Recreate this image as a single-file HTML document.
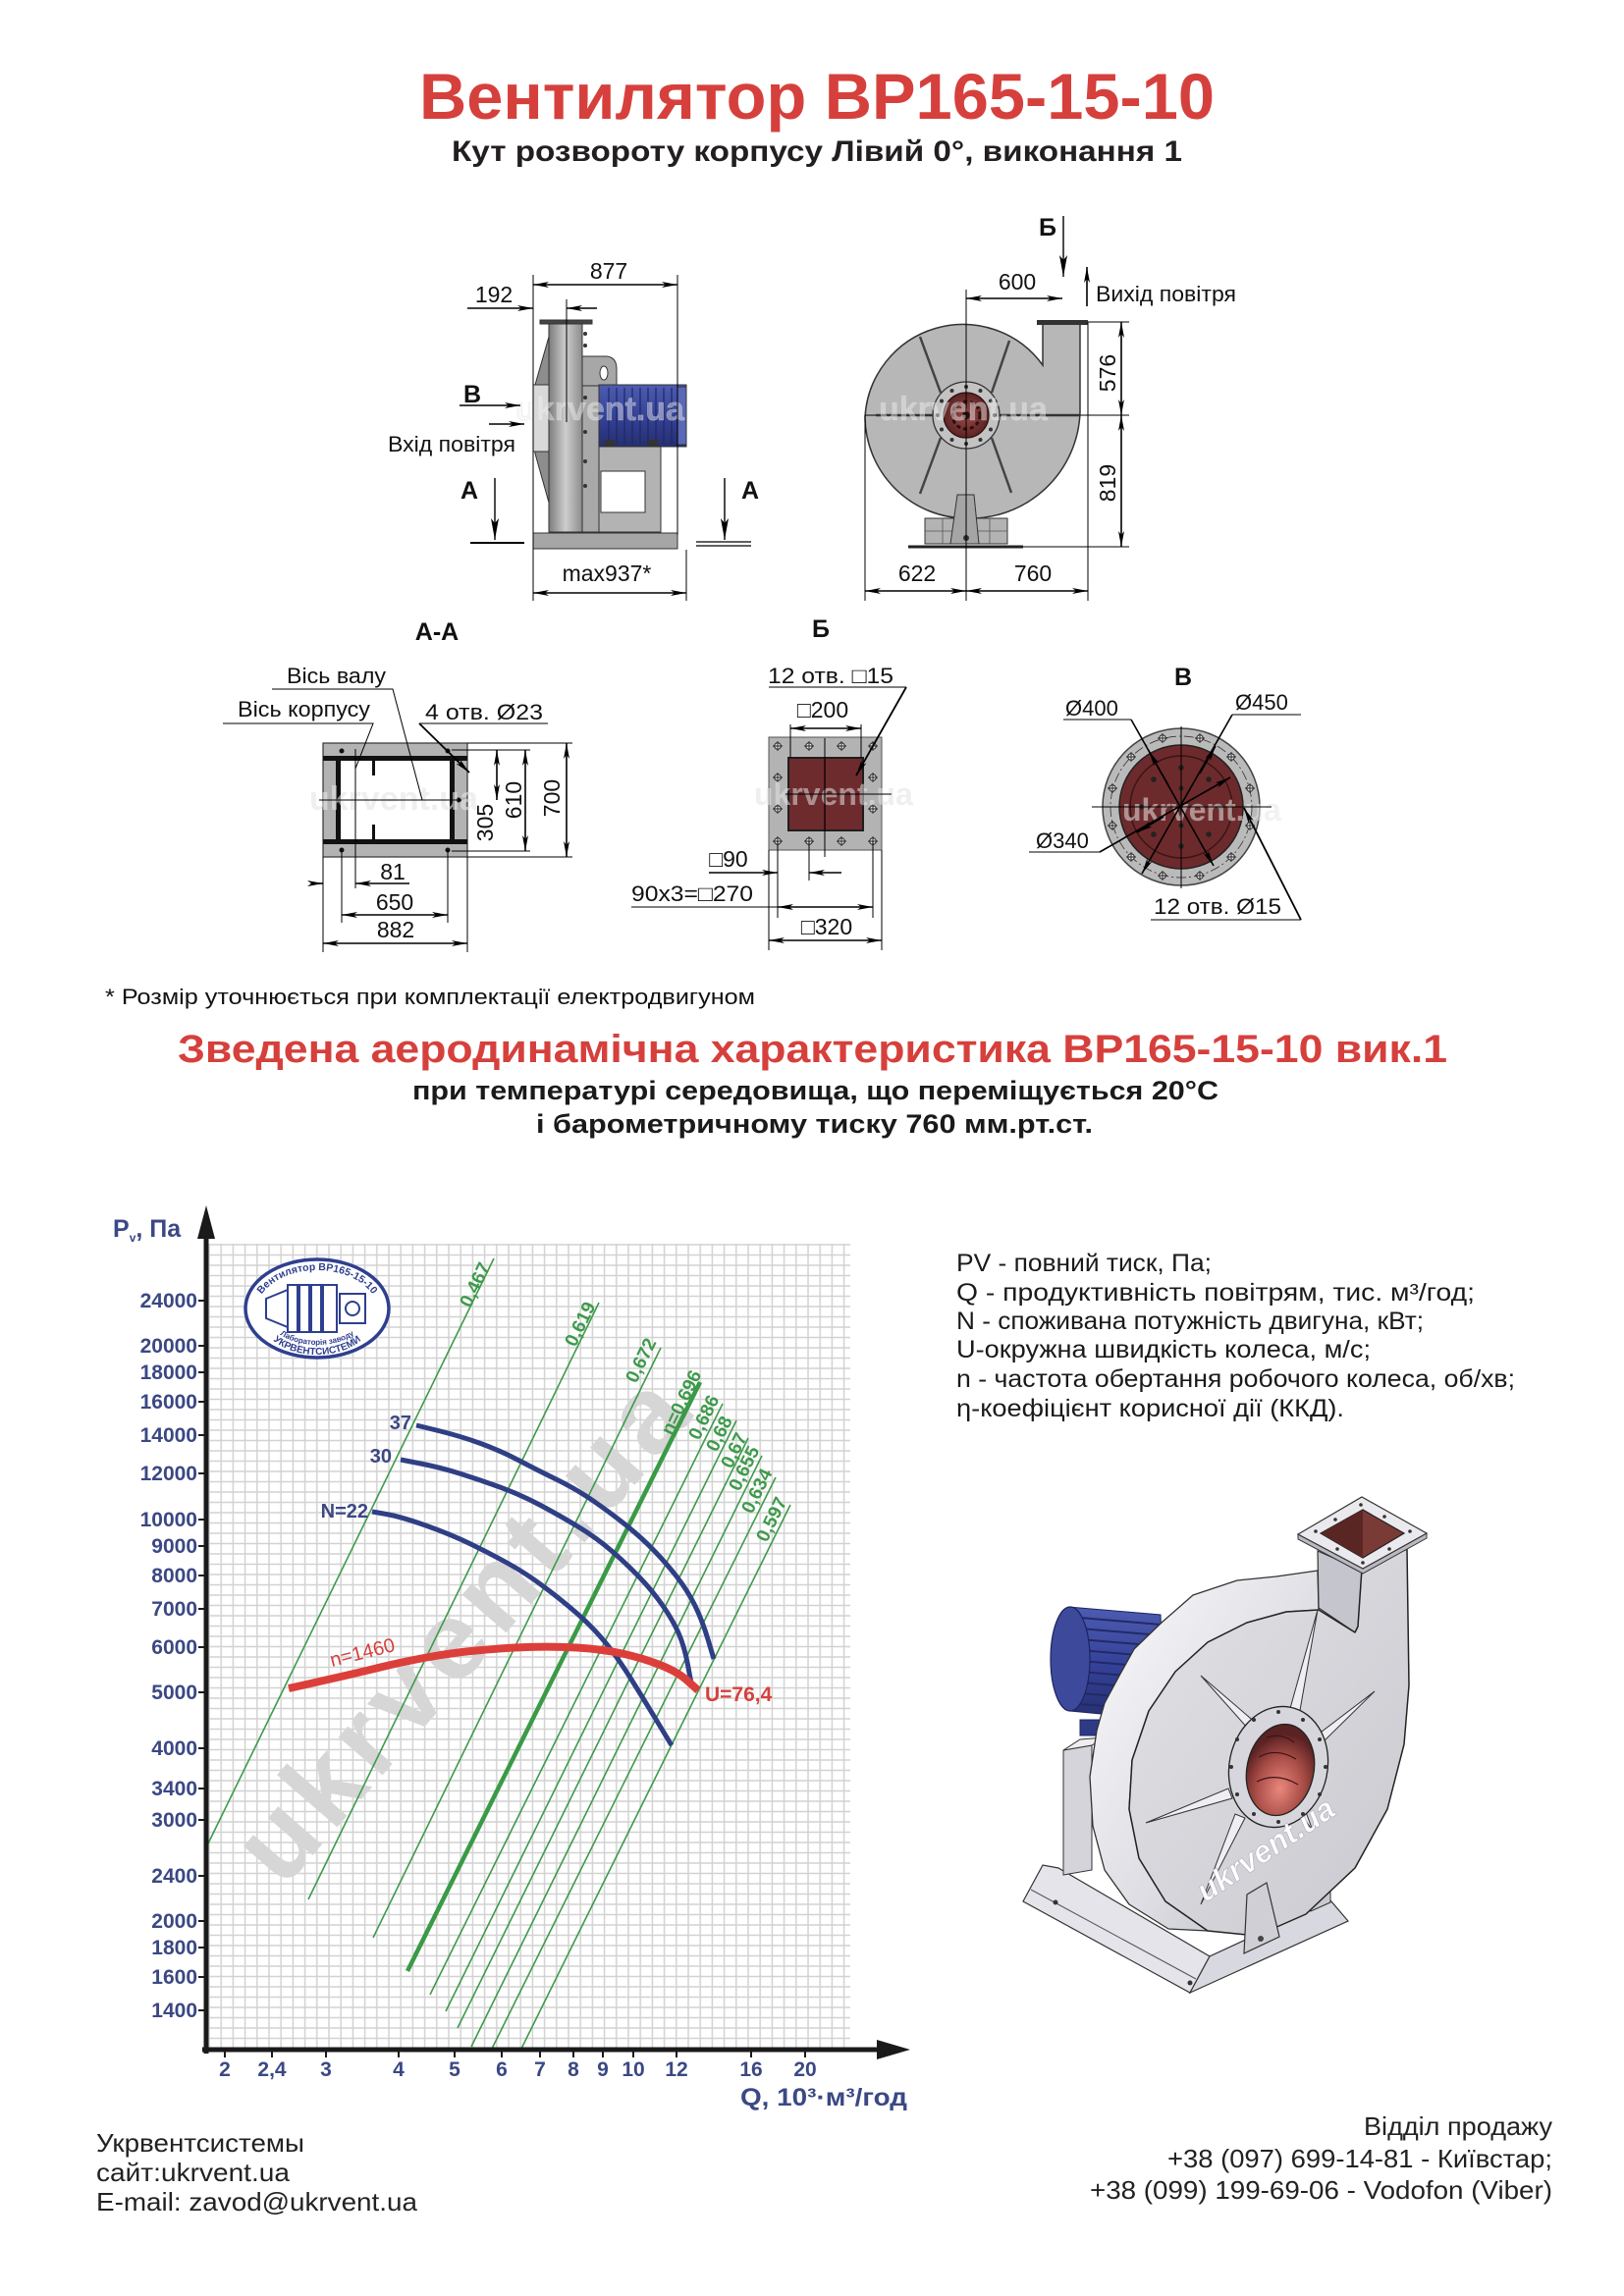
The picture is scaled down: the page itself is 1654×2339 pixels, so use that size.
<!DOCTYPE html>
<html><head><meta charset="utf-8">
<style>
html,body{margin:0;padding:0;background:#fff;}
svg{display:block;}
text{font-family:"Liberation Sans",Arial,"DejaVu Sans",sans-serif;}
</style></head><body>
<svg width="1654" height="2339" viewBox="0 0 1654 2339" xmlns="http://www.w3.org/2000/svg">
<defs>
<marker id="a" markerWidth="16" markerHeight="6" refX="16" refY="3" orient="auto-start-reverse" markerUnits="userSpaceOnUse"><path d="M0,0 L16,3 L0,6 L4,3 z" fill="#000"/></marker>
<marker id="b" markerWidth="22" markerHeight="8" refX="22" refY="4" orient="auto-start-reverse" markerUnits="userSpaceOnUse"><path d="M0,0 L22,4 L0,8 L5,4 z" fill="#000"/></marker>
<linearGradient id="hs" x1="0" y1="0" x2="1" y2="0"><stop offset="0" stop-color="#7c7c7c"/><stop offset="0.5" stop-color="#cdcdcd"/><stop offset="1" stop-color="#8c8c8c"/></linearGradient>
<linearGradient id="mg" x1="0" y1="0" x2="0" y2="1"><stop offset="0" stop-color="#4d5cb0"/><stop offset="0.5" stop-color="#35429a"/><stop offset="1" stop-color="#252f70"/></linearGradient>
<radialGradient id="rh" cx="0.5" cy="0.5" r="0.5"><stop offset="0" stop-color="#9a4a48"/><stop offset="1" stop-color="#5e2324"/></radialGradient>
<linearGradient id="band" x1="0" y1="0" x2="1" y2="1"><stop offset="0" stop-color="#fbfbfd"/><stop offset="0.6" stop-color="#dcdce2"/><stop offset="1" stop-color="#b9b9c4"/></linearGradient>
<linearGradient id="front" x1="0" y1="0" x2="1" y2="1"><stop offset="0" stop-color="#e2e2e6"/><stop offset="1" stop-color="#c9c9cf"/></linearGradient>
<radialGradient id="inl" cx="0.55" cy="0.7" r="0.6"><stop offset="0" stop-color="#e9877c"/><stop offset="0.6" stop-color="#a64b45"/><stop offset="1" stop-color="#5a2223"/></radialGradient>
<pattern id="g" x="212" y="1267" width="12.2" height="10.5" patternUnits="userSpaceOnUse"><path d="M1,0V10.5M0,1H12.2" stroke="#d2d2d2" stroke-width="1.5" fill="none"/></pattern>
<g id="hc"><circle r="3.3" fill="#e8e8e8" stroke="#222" stroke-width="1"/><path d="M-5,0H5M0,-5V5" stroke="#222" stroke-width="0.9"/></g>
<path id="stTop" d="M261,1336 A62,42 0 0 1 385,1336" fill="none"/>
<path id="stB1" d="M273,1340 A50,30 0 0 0 373,1340" fill="none"/>
<path id="stB2" d="M266,1342 A57,38 0 0 0 380,1342" fill="none"/>
</defs>
<rect width="1654" height="2339" fill="#fff"/>

<!-- ================= TITLES ================= -->
<text x="427" y="121" font-size="66" font-weight="bold" fill="#d6403c" textLength="810" lengthAdjust="spacingAndGlyphs">Вентилятор ВР165-15-10</text>
<text x="460" y="164" font-size="30" font-weight="bold" fill="#231f20" textLength="744" lengthAdjust="spacingAndGlyphs">Кут розвороту корпусу Лівий 0°, виконання 1</text>

<!-- ================= SIDE VIEW ================= -->
<g stroke="#333" stroke-width="1">
  <polygon points="559,343 545,392 545,462 559,512" fill="#8d8d8d"/>
  <rect x="543" y="392" width="16" height="68" fill="#d9d9d9"/>
  <rect x="559" y="328" width="34" height="214" fill="url(#hs)"/>
  <rect x="550" y="326" width="53" height="4" fill="#444"/>
  <rect x="593" y="363" width="17" height="179" fill="#a9a9a9"/>
  <path d="M593,363 H618 Q628,364 628,376 V393 H593 Z" fill="#a7a7a7"/>
  <ellipse cx="615" cy="380" rx="4" ry="7" fill="#fff"/>
  <rect x="610" y="455" width="63" height="87" fill="#b3b3b3"/>
  <rect x="612" y="480" width="45" height="42" fill="#fff"/>
  <rect x="610" y="392" width="89" height="63" fill="url(#mg)"/>
  <rect x="690" y="394" width="9" height="59" fill="#5a68b8"/>
  <rect x="543" y="543" width="147" height="16" fill="#a6a6a6"/>
</g>
<g stroke="#1f2860" stroke-width="1.2">
  <path d="M620,395V452M628,395V452M636,395V452M644,395V452M652,395V452M660,395V452M668,395V452M676,395V452M684,395V452"/>
</g>
<g fill="#333"><circle cx="596" cy="340" r="2"/><circle cx="596" cy="352" r="2"/><circle cx="596" cy="405" r="2"/><circle cx="596" cy="440" r="2"/><circle cx="596" cy="470" r="2"/><circle cx="596" cy="495" r="2"/><rect x="616" y="448" width="10" height="7"/><rect x="660" y="448" width="10" height="7"/></g>
<text x="525" y="428" font-size="34" font-weight="bold" fill="#f2f2f2" fill-opacity="0.45" stroke="#d8d8d8" stroke-opacity="0.5" stroke-width="0.6">ukrvent.ua</text>
<!-- side dims -->
<g stroke="#000" stroke-width="1" fill="none">
  <path d="M543,280V612M690,280V545M699,560V612M577,305V430"/>
  <path d="M543,290H690" marker-start="url(#a)" marker-end="url(#a)" stroke-width="1.6"/>
  <path d="M476,314H543" marker-end="url(#a)" stroke-width="1.6"/>
  <path d="M608,314H577" marker-end="url(#a)" stroke-width="1.6"/>
  <path d="M543,604H699" marker-start="url(#a)" marker-end="url(#a)" stroke-width="1.6"/>
  <path d="M468,413H530" marker-end="url(#a)" stroke-width="1.4"/>
  <path d="M498,432H534" marker-end="url(#a)" stroke-width="1.6"/>
  <path d="M504,487V550" marker-end="url(#b)" stroke-width="1.4"/>
  <path d="M479,553H534" stroke-width="2"/>
  <path d="M738,487V550" marker-end="url(#b)" stroke-width="1.4"/>
  <path d="M709,552H765M709,556H765" stroke-width="1.2"/>
</g>
<g font-size="23" fill="#111" text-anchor="middle">
  <text x="620" y="284">877</text>
  <text x="503" y="308">192</text>
  <text x="618" y="592">max937*</text>
</g>
<text x="395" y="460" font-size="22" fill="#111" textLength="130" lengthAdjust="spacingAndGlyphs">Вхід повітря</text>
<g font-size="25" font-weight="bold" fill="#111" text-anchor="middle">
  <text x="481" y="410">В</text>
  <text x="478" y="508">А</text>
  <text x="764" y="508">А</text>
</g>

<!-- ================= FRONT VIEW ================= -->
<path d="M1062,330 L1062,372 A100,100 0 0 0 881,425 A104,104 0 0 0 984,528 A112,112 0 0 0 1100,420 L1100,330 Z" fill="#b7b7b7" stroke="#333" stroke-width="1.5"/>
<rect x="1056" y="326" width="52" height="5" fill="#333"/>
<g stroke="#444" stroke-width="2.5">
  <path d="M958,400L937,343M1010,400L1028,347M958,446L937,503M1010,446L1030,502"/>
</g>
<path d="M892,423H1100" stroke="#333" stroke-width="2.5"/>
<circle cx="984" cy="423" r="34" fill="#c3c3c3" stroke="#333" stroke-width="1.3"/>
<g fill="#333">
  <circle cx="1013" cy="423" r="2"/><circle cx="1009" cy="437.5" r="2"/><circle cx="998.5" cy="448" r="2"/><circle cx="984" cy="452" r="2"/><circle cx="969.5" cy="448" r="2"/><circle cx="959" cy="437.5" r="2"/><circle cx="955" cy="423" r="2"/><circle cx="959" cy="408.5" r="2"/><circle cx="969.5" cy="398" r="2"/><circle cx="984" cy="394" r="2"/><circle cx="998.5" cy="398" r="2"/><circle cx="1009" cy="408.5" r="2"/>
</g>
<circle cx="984" cy="423" r="23" fill="url(#rh)" stroke="#2a1010" stroke-width="1.2"/>
<circle cx="984" cy="423" r="14" fill="none" stroke="#2a1010" stroke-width="3" stroke-dasharray="4 3"/>
<circle cx="984" cy="423" r="4" fill="#2a1010"/>
<rect x="942" y="528" width="84" height="26" fill="#b3b3b3" stroke="#333" stroke-width="1"/>
<path d="M960,528V554M1008,528V554M942,541H1026" stroke="#555" stroke-width="0.8"/>
<polygon points="975,504 992,504 997,554 968,554" fill="#a5a5a5" stroke="#333" stroke-width="1"/>
<circle cx="984" cy="548" r="3" fill="#333"/>
<path d="M925,557H1042" stroke="#222" stroke-width="3"/>
<text x="895" y="428" font-size="34" font-weight="bold" fill="#f2f2f2" fill-opacity="0.45" stroke="#d8d8d8" stroke-opacity="0.5" stroke-width="0.6">ukrvent.ua</text>
<g stroke="#000" stroke-width="1" fill="none">
  <path d="M984,295V612M881,423V612M1108,328V612M1108,328H1150M1100,423H1150M1042,557H1150M881,423H892"/>
  <path d="M984,304H1082" marker-start="url(#a)" marker-end="url(#a)" stroke-width="1.6"/>
  <path d="M1083,220V282" marker-end="url(#b)" stroke-width="1.4"/>
  <path d="M1107,312V272" marker-end="url(#a)" stroke-width="1.6"/>
  <path d="M1142,328V423" marker-start="url(#a)" marker-end="url(#a)" stroke-width="1.6"/>
  <path d="M1142,423V557" marker-start="url(#a)" marker-end="url(#a)" stroke-width="1.6"/>
  <path d="M881,602H984" marker-start="url(#a)" marker-end="url(#a)" stroke-width="1.6"/>
  <path d="M984,602H1108" marker-start="url(#a)" marker-end="url(#a)" stroke-width="1.6"/>
</g>
<g font-size="23" fill="#111" text-anchor="middle">
  <text x="1036" y="295">600</text>
  <text x="934" y="592">622</text>
  <text x="1052" y="592">760</text>
  <text transform="translate(1136,380) rotate(-90)">576</text>
  <text transform="translate(1136,492) rotate(-90)">819</text>
</g>
<text x="1116" y="307" font-size="22" fill="#111" textLength="143" lengthAdjust="spacingAndGlyphs">Вихід повітря</text>
<text x="1067" y="240" font-size="25" font-weight="bold" fill="#111" text-anchor="middle">Б</text>

<!-- ================= SECTION A-A ================= -->
<text x="445" y="652" font-size="25" font-weight="bold" fill="#111" text-anchor="middle">А-А</text>
<rect x="329" y="757" width="147" height="116" fill="#b3b3b3" stroke="#333" stroke-width="1.2"/>
<rect x="347" y="775" width="111" height="80" fill="#fff"/>
<g fill="#111">
  <rect x="329" y="770" width="147" height="5"/>
  <rect x="329" y="855" width="147" height="5"/>
  <rect x="342" y="770" width="5" height="90"/>
  <rect x="458" y="770" width="5" height="90"/>
  <rect x="379" y="775" width="3" height="15"/>
  <rect x="379" y="840" width="3" height="15"/>
  <circle cx="348" cy="765" r="2.5"/><circle cx="456" cy="765" r="2.5"/><circle cx="348" cy="866" r="2.5"/><circle cx="456" cy="866" r="2.5"/><circle cx="467" cy="815" r="2.5"/>
</g>
<text x="315" y="825" font-size="34" font-weight="bold" fill="#e4e4e4" fill-opacity="0.6">ukrvent.ua</text>
<g stroke="#000" stroke-width="1" fill="none">
  <path d="M325,815H470M362,763V905"/>
  <path d="M277,702H400L430,815M227,737H380L362,783M558,737H427"/>
  <path d="M427,737L478,787" marker-end="url(#a)" stroke-width="1.8"/>
  <path d="M476,757H583M476,873H583M460,764H540M460,867H540"/>
  <path d="M577,757V873" marker-start="url(#a)" marker-end="url(#a)" stroke-width="1.6"/>
  <path d="M535,764V867" marker-start="url(#a)" marker-end="url(#a)" stroke-width="1.6"/>
  <path d="M506,764V815" marker-start="url(#a)" marker-end="url(#a)" stroke-width="1.6"/>
  <path d="M329,873V970M348,866V940M456,866V940M476,873V970"/>
  <path d="M317,900H329" marker-end="url(#a)" stroke-width="1.6"/>
  <path d="M417,900H362" marker-end="url(#a)" stroke-width="1.6"/>
  <path d="M348,932H456" marker-start="url(#a)" marker-end="url(#a)" stroke-width="1.6"/>
  <path d="M329,961H476" marker-start="url(#a)" marker-end="url(#a)" stroke-width="1.6"/>
</g>
<g font-size="22" fill="#111">
  <text x="292" y="696" textLength="101" lengthAdjust="spacingAndGlyphs">Вісь валу</text>
  <text x="242" y="730" textLength="135" lengthAdjust="spacingAndGlyphs">Вісь корпусу</text>
  <text x="433" y="733" textLength="120" lengthAdjust="spacingAndGlyphs">4 отв. Ø23</text>
</g>
<g font-size="23" fill="#111" text-anchor="middle">
  <text x="400" y="896">81</text>
  <text x="402" y="927">650</text>
  <text x="403" y="955">882</text>
  <text transform="translate(570,813) rotate(-90)">700</text>
  <text transform="translate(531,815) rotate(-90)">610</text>
  <text transform="translate(502,838) rotate(-90)">305</text>
</g>

<!-- ================= SECTION Б ================= -->
<text x="836" y="649" font-size="25" font-weight="bold" fill="#111" text-anchor="middle">Б</text>
<rect x="783" y="751" width="115" height="115" fill="#b3b3b3" stroke="#555" stroke-width="1"/>
<rect x="803" y="772" width="76" height="74" fill="#6e2b2e" stroke="#1e1e1e" stroke-width="2"/>
<path d="M840,772V846" stroke="#3a1214" stroke-width="1.5"/>
<use href="#hc" x="792" y="760"/><use href="#hc" x="824" y="760"/><use href="#hc" x="857" y="760"/><use href="#hc" x="889" y="760"/>
<use href="#hc" x="792" y="857"/><use href="#hc" x="824" y="857"/><use href="#hc" x="857" y="857"/><use href="#hc" x="889" y="857"/>
<use href="#hc" x="792" y="792"/><use href="#hc" x="792" y="824"/><use href="#hc" x="889" y="792"/><use href="#hc" x="889" y="824"/>
<text x="768" y="820" font-size="32" font-weight="bold" fill="#e2e2e2" fill-opacity="0.55">ukrvent.ua</text>
<g stroke="#000" stroke-width="1" fill="none">
  <path d="M840,752V873M800,809H908"/>
  <path d="M783,700H923"/>
  <path d="M923,700L872,790" marker-end="url(#a)" stroke-width="1.8"/>
  <path d="M805,738V772M877,738V772"/>
  <path d="M805,742H877" marker-start="url(#a)" marker-end="url(#a)" stroke-width="1.6"/>
  <path d="M783,866V968M792,857V935M824,857V897M889,857V935M898,866V968"/>
  <path d="M722,889H792" marker-end="url(#a)" stroke-width="1.6"/>
  <path d="M857,889H824" marker-end="url(#a)" stroke-width="1.6"/>
  <path d="M643,924H792"/>
  <path d="M792,924H889" marker-start="url(#a)" marker-end="url(#a)" stroke-width="1.6"/>
  <path d="M783,958H898" marker-start="url(#a)" marker-end="url(#a)" stroke-width="1.6"/>
</g>
<g font-size="22" fill="#111">
  <text x="782" y="696" textLength="128" lengthAdjust="spacingAndGlyphs">12 отв. □15</text>
  <text x="643" y="918" textLength="124" lengthAdjust="spacingAndGlyphs">90x3=□270</text>
</g>
<g font-size="23" fill="#111" text-anchor="middle">
  <text x="838" y="731">□200</text>
  <text x="742" y="883">□90</text>
  <text x="842" y="952">□320</text>
</g>

<!-- ================= SECTION В ================= -->
<text x="1205" y="698" font-size="25" font-weight="bold" fill="#111" text-anchor="middle">В</text>
<circle cx="1203" cy="822" r="80" fill="#bababa" stroke="#444" stroke-width="1.5"/>
<circle cx="1203" cy="822" r="72" fill="none" stroke="#333" stroke-width="0.8" stroke-dasharray="10 3 2 3"/>
<g>
  <use href="#hc" x="1222" y="752"/><use href="#hc" x="1254" y="771"/><use href="#hc" x="1273" y="803"/><use href="#hc" x="1273" y="841"/><use href="#hc" x="1254" y="873"/><use href="#hc" x="1222" y="892"/>
  <use href="#hc" x="1184" y="892"/><use href="#hc" x="1152" y="873"/><use href="#hc" x="1133" y="841"/><use href="#hc" x="1133" y="803"/><use href="#hc" x="1152" y="771"/><use href="#hc" x="1184" y="752"/>
</g>
<circle cx="1203" cy="822" r="63" fill="#6d2a2c" stroke="#222" stroke-width="1.5"/>
<circle cx="1203" cy="822" r="52" fill="none" stroke="#3a1515" stroke-width="1.5"/>
<g fill="#222">
  <circle cx="1203" cy="782" r="2.8"/><circle cx="1231" cy="794" r="2.8"/><circle cx="1243" cy="822" r="2.8"/><circle cx="1231" cy="850" r="2.8"/><circle cx="1203" cy="862" r="2.8"/><circle cx="1175" cy="850" r="2.8"/><circle cx="1163" cy="822" r="2.8"/><circle cx="1175" cy="794" r="2.8"/>
  <circle cx="1203" cy="803" r="2.5"/><circle cx="1203" cy="841" r="2.5"/>
</g>
<text x="1143" y="836" font-size="32" font-weight="bold" fill="#e8e8e8" fill-opacity="0.55">ukrvent.ua</text>
<g stroke="#000" stroke-width="1" fill="none">
  <path d="M1112,822H1295M1203,740V905"/>
  <path d="M1083,733H1152M1255,728H1325M1048,868H1120M1172,937H1325"/>
  <path d="M1152,733L1236,882" marker-end="url(#a)" stroke-width="1.6"/>
  <path d="M1190,800L1170,765" marker-end="url(#a)" stroke-width="1.6"/>
  <path d="M1255,728L1163,890" marker-end="url(#a)" stroke-width="1.6"/>
  <path d="M1222,788L1238,760" marker-end="url(#a)" stroke-width="1.6"/>
  <path d="M1120,868L1253,792" marker-end="url(#a)" stroke-width="1.6"/>
  <path d="M1185,832L1158,848" marker-end="url(#a)" stroke-width="1.6"/>
  <path d="M1325,937L1267,823" marker-end="url(#a)" stroke-width="1.8"/>
</g>
<g font-size="22" fill="#111">
  <text x="1085" y="729">Ø400</text>
  <text x="1258" y="723">Ø450</text>
  <text x="1055" y="864">Ø340</text>
  <text x="1175" y="931" textLength="130" lengthAdjust="spacingAndGlyphs">12 отв. Ø15</text>
</g>

<!-- footnote and chart headings -->
<text x="107" y="1023" font-size="22" fill="#111" textLength="662" lengthAdjust="spacingAndGlyphs">* Розмір уточнюється при комплектації електродвигуном</text>
<text x="181" y="1082" font-size="40" font-weight="bold" fill="#d6403c" textLength="1293" lengthAdjust="spacingAndGlyphs">Зведена аеродинамічна характеристика ВР165-15-10 вик.1</text>
<text x="420" y="1120" font-size="27" font-weight="bold" fill="#1a1a1a" textLength="821" lengthAdjust="spacingAndGlyphs">при температурі середовища, що переміщується 20°С</text>
<text x="546" y="1154" font-size="27" font-weight="bold" fill="#1a1a1a" textLength="567" lengthAdjust="spacingAndGlyphs">і барометричному тиску 760 мм.рт.ст.</text>

<!-- ================= CHART ================= -->
<rect x="212" y="1267" width="654" height="821" fill="url(#g)"/>
<text transform="translate(476,1660) rotate(-49)" x="0" y="32" font-size="112" font-weight="bold" fill="#d6d6d6" text-anchor="middle" letter-spacing="8">ukrvent.ua</text>

<!-- stamp -->
<ellipse cx="323" cy="1333" rx="73" ry="50" fill="#fff" stroke="#2f3f8f" stroke-width="3.5"/>
<text font-size="10.5" font-weight="bold" fill="#2f3f8f"><textPath href="#stTop" startOffset="50%" text-anchor="middle">Вентилятор ВР165-15-10</textPath></text>
<text font-size="8" font-weight="bold" fill="#2f3f8f"><textPath href="#stB1" startOffset="50%" text-anchor="middle">Лабораторія заводу</textPath></text>
<text font-size="10" font-weight="bold" fill="#2f3f8f"><textPath href="#stB2" startOffset="50%" text-anchor="middle">УКРВЕНТСИСТЕМИ</textPath></text>
<g stroke="#2f3f8f" fill="#fff" stroke-width="2">
  <path d="M271,1323 L293,1314 V1352 L271,1343 Z"/>
  <rect x="293" y="1309" width="50" height="48"/>
  <rect x="346" y="1318" width="26" height="30"/>
</g>
<path d="M304,1309V1357M316,1309V1357M328,1309V1357" stroke="#2f3f8f" stroke-width="4"/>
<circle cx="359" cy="1333" r="7" fill="none" stroke="#2f3f8f" stroke-width="2"/>

<!-- green efficiency lines -->
<g stroke="#3e9a4a" stroke-width="1.6" fill="none">
  <path d="M503,1282L212,1878"/>
  <path d="M610,1327L314,1935"/>
  <path d="M673,1373L380,1974"/>
  <path d="M736,1430L438,2032"/>
  <path d="M750,1447L454,2049"/>
  <path d="M762,1465L466,2066"/>
  <path d="M776,1483L480,2085"/>
  <path d="M790,1505L501,2087"/>
  <path d="M805,1533L531,2087"/>
  <path d="M713,1408L415,2008" stroke-width="4.5" stroke="#3a9a46"/>
</g>
<g font-size="19" font-weight="bold" fill="#3e9a4a">
  <text transform="translate(479,1333) rotate(-64)">0,467</text>
  <text transform="translate(586,1373) rotate(-64)">0,619</text>
  <text transform="translate(648,1410) rotate(-64)">0,672</text>
  <text transform="translate(684,1463) rotate(-64)">n=0,696</text>
  <text transform="translate(712,1468) rotate(-64)">0,686</text>
  <text transform="translate(730,1480) rotate(-64)">0,68</text>
  <text transform="translate(745,1497) rotate(-64)">0,67</text>
  <text transform="translate(753,1520) rotate(-64)">0,655</text>
  <text transform="translate(766,1543) rotate(-64)">0,634</text>
  <text transform="translate(781,1572) rotate(-64)">0,597</text>
</g>

<!-- blue power curves -->
<g stroke="#2f3f85" stroke-width="5" fill="none" stroke-linejoin="round" stroke-linecap="butt">
  <path d="M424,1452 L446.5,1457.5 Q469,1463 489.5,1470.5 Q510,1478 528,1487.5 Q546,1497 566.5,1507 Q587,1517 605,1529.5 Q623,1542 638.5,1554.5 Q654,1567 666.5,1580 Q679,1593 689.5,1606.5 Q700,1620 707.5,1635 Q715,1650 721,1670 L727,1690"/>
  <path d="M408,1487 L428.5,1491 Q449,1495 469.5,1501.5 Q490,1508 510.5,1515.5 Q531,1523 551.5,1534 Q572,1545 590,1556 Q608,1567 623,1580 Q638,1593 651,1606.5 Q664,1620 674.5,1635 Q685,1650 691,1663.5 Q697,1677 700.5,1696 L704,1715"/>
  <path d="M379,1540 L393.5,1542.5 Q408,1545 433.5,1554 Q459,1563 479.5,1573 Q500,1583 518,1593 Q536,1603 554,1616.5 Q572,1630 587.5,1643.5 Q603,1657 615.5,1672 Q628,1687 641.5,1708.5 Q655,1730 669.5,1754 L684,1778"/>
</g>
<!-- red curve -->
<path d="M294,1720 L312,1716 Q330,1712 349.5,1707.5 Q369,1703 389.5,1698 Q410,1693 434.5,1688.5 Q459,1684 484.5,1681.5 Q510,1679 536,1678 Q562,1677 587.5,1678.5 Q613,1680 633.5,1684.5 Q654,1689 672,1696 Q690,1703 700.5,1712.5 L711,1722" stroke="#dc3f3a" stroke-width="8" fill="none" stroke-linejoin="round"/>

<g font-size="20" font-weight="bold" fill="#3b4884" text-anchor="end">
  <text x="419" y="1456">37</text>
  <text x="399" y="1490">30</text>
  <text x="375" y="1546">N=22</text>
</g>
<text transform="translate(338,1698) rotate(-14)" font-size="20" fill="#d6403c">n=1460</text>
<text x="718" y="1733" font-size="21" font-weight="bold" fill="#d6403c">U=76,4</text>

<!-- axes -->
<path d="M210,2092V1258" stroke="#1a1a1a" stroke-width="5"/>
<polygon points="210,1228 201,1262 219,1262" fill="#1a1a1a"/>
<path d="M206,2088H897" stroke="#1a1a1a" stroke-width="5"/>
<polygon points="927,2088 893,2078 893,2098" fill="#1a1a1a"/>
<g stroke="#1a1a1a" stroke-width="2">
  <path d="M202,1325H210M202,1371H210M202,1398H210M202,1428H210M202,1462H210M202,1501H210M202,1548H210M202,1575H210M202,1605H210M202,1639H210M202,1678H210M202,1724H210M202,1781H210M202,1822H210M202,1854H210M202,1911H210M202,1957H210M202,1984H210M202,2014H210M202,2048H210"/>
  <path d="M229,2088V2096M277,2088V2096M332,2088V2096M406,2088V2096M463,2088V2096M511,2088V2096M550,2088V2096M584,2088V2096M614,2088V2096M645,2088V2096M689,2088V2096M765,2088V2096M820,2088V2096"/>
</g>
<g font-size="21" font-weight="bold" fill="#3b4884" text-anchor="end">
  <text x="201" y="1332">24000</text>
  <text x="201" y="1378">20000</text>
  <text x="201" y="1405">18000</text>
  <text x="201" y="1435">16000</text>
  <text x="201" y="1469">14000</text>
  <text x="201" y="1508">12000</text>
  <text x="201" y="1555">10000</text>
  <text x="201" y="1582">9000</text>
  <text x="201" y="1612">8000</text>
  <text x="201" y="1646">7000</text>
  <text x="201" y="1685">6000</text>
  <text x="201" y="1731">5000</text>
  <text x="201" y="1788">4000</text>
  <text x="201" y="1829">3400</text>
  <text x="201" y="1861">3000</text>
  <text x="201" y="1918">2400</text>
  <text x="201" y="1964">2000</text>
  <text x="201" y="1991">1800</text>
  <text x="201" y="2021">1600</text>
  <text x="201" y="2055">1400</text>
</g>
<g font-size="21" font-weight="bold" fill="#3b4884" text-anchor="middle">
  <text x="229" y="2115">2</text>
  <text x="277" y="2115">2,4</text>
  <text x="332" y="2115">3</text>
  <text x="406" y="2115">4</text>
  <text x="463" y="2115">5</text>
  <text x="511" y="2115">6</text>
  <text x="550" y="2115">7</text>
  <text x="584" y="2115">8</text>
  <text x="614" y="2115">9</text>
  <text x="645" y="2115">10</text>
  <text x="689" y="2115">12</text>
  <text x="765" y="2115">16</text>
  <text x="820" y="2115">20</text>
</g>
<text x="115" y="1260" font-size="25" font-weight="bold" fill="#3b4884">P<tspan font-size="12" dy="5">v</tspan><tspan dy="-5">, Па</tspan></text>
<text x="754" y="2145" font-size="25" font-weight="bold" fill="#3b4884" textLength="170" lengthAdjust="spacingAndGlyphs">Q, 10³·м³/год</text>

<!-- ================= LEGEND ================= -->
<g font-size="25" fill="#1a1a1a">
  <text x="974" y="1295" textLength="260" lengthAdjust="spacingAndGlyphs">PV - повний тиск, Па;</text>
  <text x="974" y="1325" textLength="528" lengthAdjust="spacingAndGlyphs">Q - продуктивність повітрям, тис. м³/год;</text>
  <text x="974" y="1354" textLength="476" lengthAdjust="spacingAndGlyphs">N - споживана потужність двигуна, кВт;</text>
  <text x="974" y="1383" textLength="422" lengthAdjust="spacingAndGlyphs">U-окружна швидкість колеса, м/с;</text>
  <text x="974" y="1413" textLength="569" lengthAdjust="spacingAndGlyphs">n - частота обертання робочого колеса, об/хв;</text>
  <text x="974" y="1443" textLength="395" lengthAdjust="spacingAndGlyphs">η-коефіцієнт корисної дії (ККД).</text>
</g>

<!-- ================= 3D FAN ================= -->
<polygon points="1042,1937 1062,1900 1078,1903 1232,1993 1212,2030" fill="#e4e4ea" stroke="#333" stroke-width="1.2"/>
<path d="M1050,1925 L1218,2016" stroke="#555" stroke-width="1"/>
<polygon points="1212,2030 1232,1993 1355,1936 1373,1957" fill="#d8d8e0" stroke="#333" stroke-width="1.2"/>
<polygon points="1333,1905 1355,1898 1355,1938 1335,1947" fill="#c8c8d0" stroke="#333" stroke-width="1"/>
<circle cx="1075" cy="1938" r="2.5" fill="#333"/><circle cx="1212" cy="2020" r="2.5" fill="#333"/>
<polygon points="1083,1783 1112,1778 1112,1905 1083,1910" fill="#d4d4da" stroke="#333" stroke-width="1"/>
<polygon points="1083,1783 1100,1772 1125,1770 1112,1778" fill="#eeeef2" stroke="#333" stroke-width="1"/>
<path d="M1088,1637 L1182,1645 L1186,1752 L1090,1743 Z" fill="url(#mg)" stroke="#1d2460" stroke-width="1"/>
<g stroke="#222a66" stroke-width="2">
  <path d="M1100,1648L1182,1655M1100,1659L1182,1666M1100,1670L1183,1677M1100,1681L1183,1688M1100,1692L1184,1699M1100,1703L1184,1710M1100,1714L1185,1721M1100,1725L1185,1732M1100,1736L1185,1743"/>
</g>
<ellipse cx="1090" cy="1690" rx="20" ry="53" fill="#3d4a9c" stroke="#1d2460" stroke-width="1.2"/>
<rect x="1100" y="1752" width="22" height="16" fill="#2f3a85" stroke="#1d2460"/>
<polygon points="1342,1600 1300,1606 1260,1610 1215,1625 1183,1653 1155,1680 1140,1707 1125,1735 1117,1763 1110,1810 1113,1860 1125,1905 1150,1940 1190,1965 1230,1967 1187,1937 1160,1893 1150,1843 1153,1793 1170,1743 1197,1703 1230,1673 1270,1653 1310,1642 1343,1640" fill="url(#band)" stroke="#333" stroke-width="1.3" stroke-linejoin="round"/>
<polygon points="1342,1580 1387,1600 1383,1657 1380,1663 1343,1638" fill="#c5c5cd" stroke="#333" stroke-width="1.2"/>
<polygon points="1387,1598 1433,1578 1435,1717 1430,1777 1413,1843 1380,1903 1330,1950 1280,1972 1230,1967 1187,1937 1160,1893 1150,1843 1153,1793 1170,1743 1197,1703 1230,1673 1270,1653 1310,1642 1343,1640 1380,1663 1383,1657" fill="url(#front)" stroke="#222" stroke-width="1.5" stroke-linejoin="round"/>
<polygon points="1322,1563 1388,1598 1453,1562 1453,1567 1388,1603 1322,1568" fill="#b9b9c2" stroke="#333" stroke-width="1"/>
<polygon points="1322,1563 1387,1525 1453,1562 1388,1598" fill="#eaeaee" stroke="#333" stroke-width="1.2"/>
<polygon points="1345,1562 1388,1538 1430,1562 1388,1587" fill="#7a3a36" stroke="#222" stroke-width="1.2"/>
<polygon points="1345,1562 1388,1538 1388,1587" fill="#5a2624"/>
<g fill="#333"><circle cx="1340" cy="1560" r="1.8"/><circle cx="1360" cy="1548" r="1.8"/><circle cx="1386" cy="1533" r="1.8"/><circle cx="1410" cy="1545" r="1.8"/><circle cx="1436" cy="1560" r="1.8"/><circle cx="1415" cy="1578" r="1.8"/><circle cx="1388" cy="1592" r="1.8"/><circle cx="1362" cy="1578" r="1.8"/></g>
<g fill="#efeff3" stroke="#333" stroke-width="1">
  <polygon points="1342,1640 1313,1744 1323,1748"/>
  <polygon points="1400,1723 1337,1771 1343,1779"/>
  <polygon points="1337,1865 1318,1838 1326,1835"/>
  <polygon points="1223,1940 1258,1848 1268,1852"/>
  <polygon points="1167,1857 1251,1822 1255,1832"/>
  <polygon points="1223,1707 1272,1762 1280,1756"/>
</g>
<ellipse cx="1302" cy="1800" rx="50" ry="62" transform="rotate(12 1302 1800)" fill="#d6d6dc" stroke="#222" stroke-width="1.3"/>
<g fill="#333">
  <circle cx="1302" cy="1744" r="2"/><circle cx="1327" cy="1752" r="2"/><circle cx="1344" cy="1772" r="2"/><circle cx="1350" cy="1800" r="2"/><circle cx="1344" cy="1828" r="2"/><circle cx="1327" cy="1848" r="2"/><circle cx="1302" cy="1856" r="2"/><circle cx="1277" cy="1848" r="2"/><circle cx="1260" cy="1828" r="2"/><circle cx="1254" cy="1800" r="2"/><circle cx="1260" cy="1772" r="2"/><circle cx="1277" cy="1752" r="2"/>
</g>
<ellipse cx="1304" cy="1803" rx="34" ry="47" transform="rotate(12 1304 1803)" fill="url(#inl)" stroke="#222" stroke-width="1.3"/>
<path d="M1282,1790 Q1300,1780 1320,1792 M1280,1815 Q1300,1805 1322,1818 M1290,1770 Q1305,1765 1318,1775" stroke="#3a1515" stroke-width="1.2" fill="none"/>
<polygon points="1270,1930 1290,1918 1303,1973 1267,1990" fill="#cfcfd5" stroke="#333" stroke-width="1.2"/>
<circle cx="1284" cy="1975" r="3" fill="#444"/>
<text transform="translate(1295,1893) rotate(-34)" font-size="32" font-weight="bold" font-style="italic" fill="#fff" stroke="#b0b0b8" stroke-width="0.6" text-anchor="middle">ukrvent.ua</text>

<!-- ================= FOOTER ================= -->
<g font-size="26" fill="#222">
  <text x="98" y="2192" textLength="212" lengthAdjust="spacingAndGlyphs">Укрвентсистемы</text>
  <text x="98" y="2222" textLength="197" lengthAdjust="spacingAndGlyphs">сайт:ukrvent.ua</text>
  <text x="98" y="2252" textLength="327" lengthAdjust="spacingAndGlyphs">E-mail: zavod@ukrvent.ua</text>
  <text x="1389" y="2175" textLength="192" lengthAdjust="spacingAndGlyphs">Відділ продажу</text>
  <text x="1189" y="2208" textLength="392" lengthAdjust="spacingAndGlyphs">+38 (097) 699-14-81 - Київстар;</text>
  <text x="1110" y="2240" textLength="471" lengthAdjust="spacingAndGlyphs">+38 (099) 199-69-06 - Vodofon (Viber)</text>
</g>
</svg>
</body></html>
